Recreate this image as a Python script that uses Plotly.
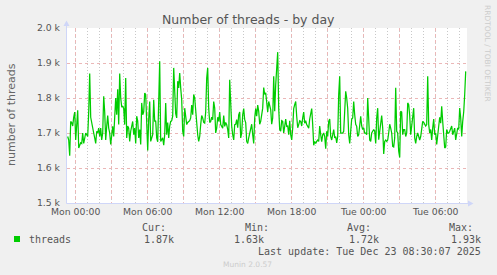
import plotly.graph_objects as go
import pandas as pd

# ---------------- data (5-minute samples) ----------------
start_time = "2025-12-21 23:20"
step_minutes = 5
threads = [
    1690, 1680, 1635, 1733, 1730, 1720, 1745, 1760, 1680, 1740,
    1765, 1657, 1665, 1672, 1670, 1700, 1670, 1681, 1700, 1695,
    1690, 1760, 1870, 1745, 1725, 1719, 1700, 1686, 1670, 1705,
    1700, 1714, 1690, 1714, 1680, 1700, 1805, 1760, 1680, 1719,
    1750, 1714, 1700, 1667, 1705, 1719, 1690, 1733, 1800, 1752,
    1825, 1724, 1870, 1800, 1775, 1776, 1770, 1724, 1857, 1686,
    1720, 1714, 1676, 1705, 1720, 1733, 1695, 1714, 1670, 1748,
    1735, 1686, 1710, 1667, 1786, 1752, 1760, 1814, 1810, 1700,
    1650, 1740, 1790, 1676, 1690, 1695, 1795, 1733, 1735, 1686,
    1675, 1800, 1905, 1676, 1680, 1686, 1665, 1695, 1786, 1695,
    1730, 1686, 1720, 1733, 1735, 1748, 1886, 1790, 1755, 1743,
    1848, 1829, 1871, 1829, 1795, 1705, 1690, 1771, 1745, 1724,
    1730, 1733, 1735, 1743, 1780, 1752, 1810, 1800, 1755, 1733,
    1695, 1676, 1690, 1724, 1750, 1743, 1730, 1728, 1760, 1857,
    1886, 1771, 1730, 1733, 1745, 1738, 1790, 1771, 1700, 1714,
    1745, 1733, 1760, 1724, 1720, 1714, 1750, 1719, 1730, 1724,
    1710, 1686, 1852, 1781, 1720, 1695, 1680, 1724, 1725, 1738,
    1715, 1752, 1760, 1686, 1700, 1752, 1770, 1738, 1730, 1676,
    1670, 1686, 1700, 1710, 1725, 1695, 1670, 1743, 1770, 1748,
    1780, 1762, 1725, 1733, 1760, 1771, 1830, 1810, 1815, 1771,
    1760, 1790, 1780, 1767, 1725, 1743, 1862, 1762, 1838, 1895,
    1931, 1771, 1710, 1705, 1735, 1733, 1700, 1719, 1740, 1719,
    1720, 1695, 1735, 1695, 1680, 1714, 1770, 1781, 1790, 1748,
    1715, 1724, 1735, 1733, 1720, 1743, 1760, 1728, 1735, 1724,
    1720, 1714, 1740, 1752, 1770, 1724, 1665, 1676, 1670, 1676,
    1680, 1676, 1720, 1695, 1675, 1695, 1700, 1690, 1655, 1705,
    1690, 1733, 1740, 1690, 1680, 1695, 1710, 1686, 1690, 1672,
    1690, 1810, 1862, 1700, 1700, 1700, 1705, 1781, 1819, 1800,
    1770, 1695, 1670, 1705, 1740, 1743, 1790, 1752, 1725, 1719,
    1690, 1695, 1730, 1748, 1720, 1710, 1715, 1700, 1700, 1695,
    1800, 1743, 1680, 1676, 1700, 1705, 1710, 1705, 1670, 1743,
    1771, 1681, 1700, 1719, 1750, 1714, 1640, 1676, 1680, 1676,
    1680, 1700, 1725, 1714, 1700, 1662, 1660, 1686, 1829, 1705,
    1700, 1648, 1630, 1762, 1760, 1695, 1710, 1710, 1690, 1700,
    1786, 1781, 1750, 1695, 1720, 1762, 1771, 1686, 1670, 1690,
    1700, 1690, 1680, 1690, 1710, 1733, 1730, 1724, 1720, 1724,
    1862, 1724, 1700, 1710, 1680, 1714, 1740, 1695, 1700, 1667,
    1690, 1710, 1745, 1728, 1776, 1733, 1680, 1657, 1660, 1710,
    1700, 1700, 1705, 1714, 1720, 1695, 1710, 1714, 1680, 1695,
    1715, 1710, 1771, 1743, 1690, 1733, 1760, 1810, 1876,
]
times = pd.date_range(start_time, periods=len(threads), freq=f"{step_minutes}min")

y_tick_vals = [1500, 1600, 1700, 1800, 1900, 2000]
y_tick_text = ["1.5 k", "1.6 k", "1.7 k", "1.8 k", "1.9 k", "2.0 k"]
x_tick_vals = ["2025-12-22 00:00", "2025-12-22 03:00", "2025-12-22 06:00",
               "2025-12-22 09:00", "2025-12-22 12:00", "2025-12-22 15:00",
               "2025-12-22 18:00", "2025-12-22 21:00", "2025-12-23 00:00",
               "2025-12-23 03:00", "2025-12-23 06:00"]
x_tick_text = ["Mon 00:00", "", "Mon 06:00", "", "Mon 12:00", "",
               "Mon 18:00", "", "Tue 00:00", "", "Tue 06:00"]
x_range = ["2025-12-21 23:16:30", "2025-12-23 08:36:30"]
y_range = [1500, 2000]

title_text = "Number of threads - by day"
y_label = "number of threads"
series_name = "threads"
legend_heads = ["Cur:", "Min:", "Avg:", "Max:"]
legend_vals = ["1.87k", "1.63k", "1.72k", "1.93k"]
last_update = "Last update: Tue Dec 23 08:30:07 2025"
munin_ver = "Munin 2.0.57"
rrd_credit = "RRDTOOL / TOBI OETIKER"

# ---------------- layout geometry ----------------
W, H = 497, 275
L, R, T, B = 67, 30, 28, 72
PW, PH = W - L - R, H - T - B

def px(x):
    return (x - L) / PW

def py(y):
    return (T + PH - y) / PH

FONT = "DejaVu Sans, Verdana, sans-serif"
MONO = "DejaVu Sans Mono, monospace"
TXT = "#555555"
LINE = "#00CC00"
AXIS = "#CFD6F8"
MGRID = "#EBB7B7"
GRID = "#C8C8C8"

fig = go.Figure()
fig.add_trace(go.Scatter(x=times, y=threads, mode="lines",
                         line=dict(color=LINE, width=1.25),
                         name=series_name, showlegend=False,
                         hoverinfo="skip"))

annotations = []

def ann(text, x, y, xa="left", ya="middle", size=10, color=TXT, family=MONO, angle=0):
    annotations.append(dict(text=text, x=px(x), y=py(y), xref="paper", yref="paper",
                            xanchor=xa, yanchor=ya, showarrow=False, textangle=angle,
                            font=dict(size=size, color=color, family=family)))

ann(title_text, 248.5, 19.5, xa="center", size=12.5, family=FONT)
ann(y_label, 10.7, 114.2, xa="center", size=11, family=FONT, angle=-90, color="#666666")
ann(rrd_credit, 488, 53, xa="center", size=7.5, family=FONT, angle=90, color="#CCCCCC")
ann(munin_ver, 247.5, 264, xa="center", size=7.5, family=FONT, color="#CCCCCC")

ann(series_name, 26.5, 239.3)
head_x = [140, 243, 345, 446.7]
val_right = [176, 265.5, 381, 482.7]
for hx, h in zip(head_x, legend_heads):
    ann(h, hx, 227.7)
for vx, v in zip(val_right, legend_vals):
    ann(v, vx, 239.3, xa="right")
ann(last_update, 482.7, 251, xa="right")

shapes = [
    # legend swatch
    dict(type="rect", xref="paper", yref="paper", x0=px(14), x1=px(20),
         y0=py(242), y1=py(236), fillcolor=LINE, line=dict(width=0)),
    # axis lines
    dict(type="line", xref="paper", yref="paper", x0=px(66.5), x1=px(66.5),
         y0=py(203.5), y1=py(23), line=dict(color=AXIS, width=1)),
    dict(type="line", xref="paper", yref="paper", x0=px(66.5), x1=px(470),
         y0=py(203.5), y1=py(203.5), line=dict(color=AXIS, width=1)),
    # arrows
    dict(type="path", xref="paper", yref="paper",
         path=f"M {px(63.5)} {py(26)} L {px(69.5)} {py(26)} L {px(66.5)} {py(20.5)} Z",
         fillcolor=AXIS, line=dict(width=0)),
    dict(type="path", xref="paper", yref="paper",
         path=f"M {px(468)} {py(200.5)} L {px(468)} {py(206.5)} L {px(473.5)} {py(203.5)} Z",
         fillcolor=AXIS, line=dict(width=0)),
]

fig.update_layout(
    width=W, height=H,
    margin=dict(l=L, r=R, t=T, b=B, pad=0),
    paper_bgcolor="#F0F0F0", plot_bgcolor="#FFFFFF",
    showlegend=False,
    annotations=annotations, shapes=shapes,
    xaxis=dict(type="date", range=x_range, tickmode="array",
               tickvals=x_tick_vals, ticktext=x_tick_text,
               showgrid=True, gridcolor=MGRID, griddash="dot",
               gridwidth=1, zeroline=False, showline=False, ticks="",
               ticklabelstandoff=2,
               tickfont=dict(family=FONT, size=9.3, color=TXT),
               minor=dict(dtick=3600000, tick0="2025-12-22 00:00", showgrid=True,
                          gridcolor=GRID, griddash="1px,2px",
                          gridwidth=1, ticks=""),
               fixedrange=True),
    yaxis=dict(range=y_range, tickmode="array", tickvals=y_tick_vals,
               ticktext=y_tick_text, showgrid=True,
               gridcolor=MGRID, griddash="dot", gridwidth=1,
               zeroline=False, showline=False, ticks="",
               ticklabelstandoff=6,
               tickfont=dict(family=FONT, size=9.3, color=TXT), fixedrange=True),
)

fig.write_html("out.html")
